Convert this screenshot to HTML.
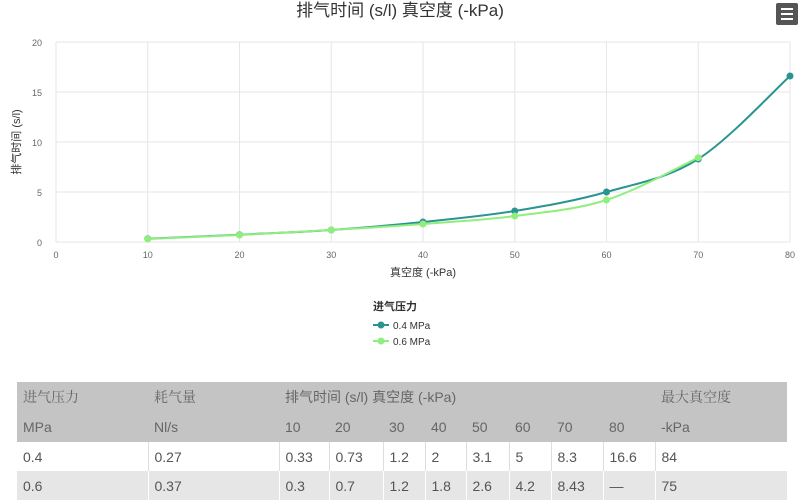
<!DOCTYPE html>
<html><head><meta charset="utf-8"><style>
body{margin:0;width:800px;height:503px;background:#fff;font-family:"Liberation Sans","Noto Sans CJK SC",sans-serif;overflow:hidden;position:relative}
svg{position:absolute;left:0;top:0}
table{position:absolute;left:17px;top:382px;width:770px;border-collapse:collapse;font-size:14px;color:#555}
td{padding:0 0 0 6px;height:29px;vertical-align:middle}
tr.h td{background:#c4c4c4;color:#666;height:30px}
tr.w td{background:#fff;border-left:1px solid #ddd}
tr.g td{background:#e6e6e6;border-left:1px solid #fff}
tr.w td:first-child,tr.g td:first-child{border-left:none}
</style></head><body>
<svg id="s" width="800" height="380" xmlns="http://www.w3.org/2000/svg" font-family="Liberation Sans, Noto Sans CJK SC, sans-serif"></svg>
<table>
<tr class="h"><td style="width:125px;font-family:'Noto Serif CJK SC',serif">进气压力</td><td style="width:125px;font-family:'Noto Serif CJK SC',serif">耗气量</td><td colspan="8">排气时间 (s/l) 真空度 (-kPa)</td><td style="font-family:'Noto Serif CJK SC',serif">最大真空度</td></tr>
<tr class="h"><td>MPa</td><td>Nl/s</td><td style="width:44px">10</td><td style="width:48px">20</td><td style="width:36px">30</td><td style="width:35px">40</td><td style="width:37px">50</td><td style="width:36px">60</td><td style="width:46px">70</td><td style="width:46px">80</td><td>-kPa</td></tr>
<tr class="w"><td>0.4</td><td>0.27</td><td>0.33</td><td>0.73</td><td>1.2</td><td>2</td><td>3.1</td><td>5</td><td>8.3</td><td>16.6</td><td>84</td></tr>
<tr class="g"><td>0.6</td><td>0.37</td><td>0.3</td><td>0.7</td><td>1.2</td><td>1.8</td><td>2.6</td><td>4.2</td><td>8.43</td><td>—</td><td>75</td></tr>
</table>
<script>
var s=document.getElementById('s'),h='';
function X(v){return 56+v*9.175}function Y(v){return 242-v*10}
for(var i=0;i<=8;i++){var x=X(i*10);h+='<line x1="'+x+'" y1="42" x2="'+x+'" y2="242" stroke="#e6e6e6"/>';h+='<text x="'+x+'" y="258" font-size="9" fill="#666" text-anchor="middle">'+(i*10)+'</text>';}
for(var j=0;j<=4;j++){var y=Y(j*5);h+='<line x1="56" y1="'+y+'" x2="790" y2="'+y+'" stroke="#e6e6e6"/>';h+='<text x="42" y="'+(y+4)+'" font-size="9" fill="#666" text-anchor="end">'+(j*5)+'</text>';}
h+='<text x="400" y="16" font-size="17" fill="#333" text-anchor="middle">排气时间 (s/l) 真空度 (-kPa)</text>';
h+='<text x="423" y="276" font-size="11" fill="#333" text-anchor="middle">真空度 (-kPa)</text>';
h+='<text transform="translate(20,142) rotate(-90)" font-size="11" fill="#333" text-anchor="middle">排气时间 (s/l)</text>';
function path(d,c){var p=d.map(function(a){return[X(a[0]),Y(a[1])]});var str='M'+p[0][0]+','+p[0][1];
for(var k=0;k<p.length-1;k++){var p0=p[k-1]||p[k],p1=p[k],p2=p[k+1],p3=p[k+2]||p2;
str+=' C'+(p1[0]+(p2[0]-p0[0])/6)+','+(p1[1]+(p2[1]-p0[1])/6)+' '+(p2[0]-(p3[0]-p1[0])/6)+','+(p2[1]-(p3[1]-p1[1])/6)+' '+p2[0]+','+p2[1];}
h+='<path d="'+str+'" fill="none" stroke="'+c+'" stroke-width="2"/>';p.forEach(function(q){h+='<circle cx="'+q[0]+'" cy="'+q[1]+'" r="3.5" fill="'+c+'"/>'});}
path([[10,.33],[20,.73],[30,1.2],[40,2],[50,3.1],[60,5],[70,8.3],[80,16.6]],'#2a9490');
path([[10,.3],[20,.7],[30,1.2],[40,1.8],[50,2.6],[60,4.2],[70,8.43]],'#90ee7e');
h+='<text x="373" y="310" font-size="11" font-weight="bold" fill="#333">进气压力</text>';
h+='<line x1="373" y1="325" x2="389" y2="325" stroke="#2a9490" stroke-width="2"/><circle cx="381" cy="325" r="3.5" fill="#2a9490"/><text x="393" y="329" font-size="10" fill="#333">0.4 MPa</text>';
h+='<line x1="373" y1="341" x2="389" y2="341" stroke="#90ee7e" stroke-width="2"/><circle cx="381" cy="341" r="3.5" fill="#90ee7e"/><text x="393" y="345" font-size="10" fill="#333">0.6 MPa</text>';
h+='<rect x="776" y="3" width="22" height="22" rx="2" fill="#555"/><rect x="781" y="8" width="12" height="2" fill="#fff"/><rect x="781" y="13" width="12" height="2" fill="#fff"/><rect x="781" y="18" width="12" height="2" fill="#fff"/>';
s.innerHTML=h;
</script>
</body></html>
